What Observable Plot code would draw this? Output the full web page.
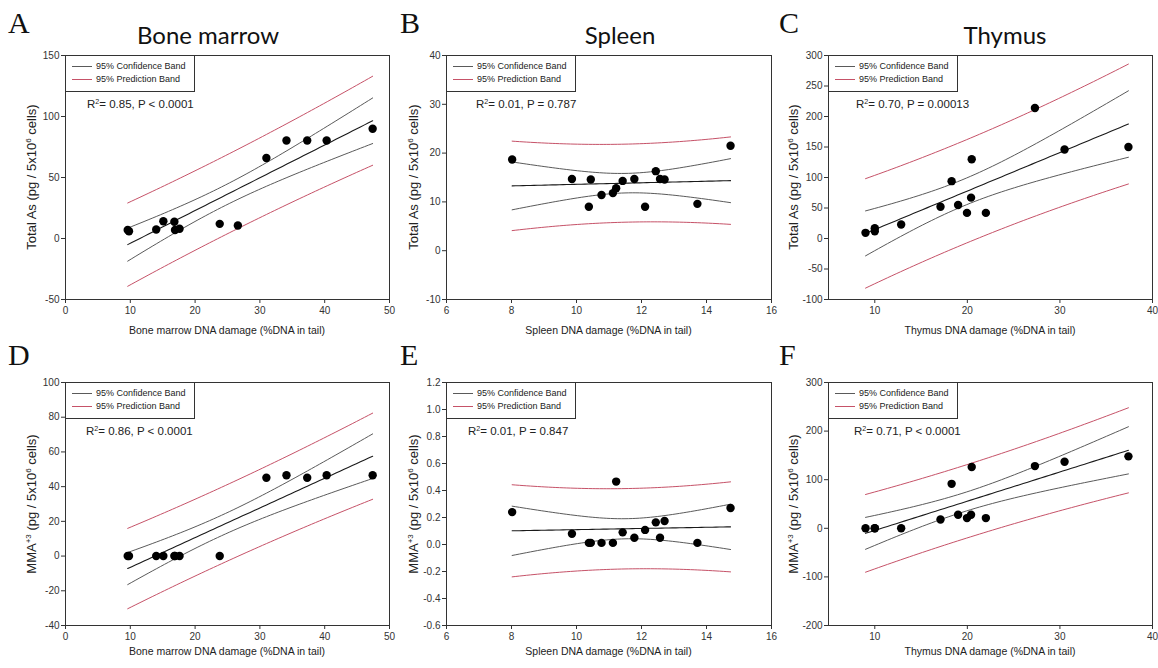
<!DOCTYPE html>
<html>
<head>
<meta charset="utf-8">
<script src="https://cdn.jsdelivr.net/npm/d3@7"></script>
<script src="https://cdn.jsdelivr.net/npm/@observablehq/plot@0.6"></script>
<style>
  body { margin: 0; background: #fff; }
  #root { position: relative; width: 1158px; height: 668px; overflow: hidden; background: #fff;
          font-family: "Liberation Sans", Arial, sans-serif; color: #222; }
  .abs { position: absolute; }
  .letter { font-family: "Liberation Serif", "Times New Roman", serif; font-size: 30px; line-height: 30px; color: #111; }
  .title { font-family: Lato, "Open Sans", sans-serif; font-size: 24px; line-height: 24px; color: #111;
           transform: translateX(-50%); white-space: nowrap; }
  .xlab { font-size: 10.5px; line-height: 13px; transform: translateX(-50%); white-space: nowrap; color: #222; }
  .ylab { font-size: 13px; line-height: 15px; white-space: nowrap; color: #222;
          transform: translate(-50%, -50%) rotate(-90deg); }
  .ylab sup, .r2 sup { font-size: 0.62em; vertical-align: 0.55em; line-height: 0; }
  .legend { box-sizing: border-box; border: 1px solid #333; background: #fff; width: 130px; height: 37px;
            font-size: 9px; color: #222; }
  .legend .row { position: absolute; left: 0; height: 11px; line-height: 11px; white-space: nowrap; }
  .legend .sw { position: absolute; left: 6px; top: 5px; width: 20px; height: 0; border-top: 1px solid; }
  .legend .tx { position: absolute; left: 30px; top: 0; }
  .r2 { font-size: 11.5px; line-height: 14px; white-space: nowrap; color: #222; }
</style>
</head>
<body>
<div id="root"></div>
<script>
// ---------------- data ----------------
const panelLetters = ["A", "B", "C", "D", "E", "F"];
const organTitles = ["Bone marrow", "Spleen", "Thymus"];
const xLabels = ["Bone marrow DNA damage (%DNA in tail)", "Spleen DNA damage (%DNA in tail)", "Thymus DNA damage (%DNA in tail)"];
const yLabelsHtml = ["Total As (pg / 5x10<sup>6</sup> cells)", "MMA<sup>+3</sup> (pg / 5x10<sup>6</sup> cells)"];
const statTexts = [
  ["0.85", "P < 0.0001"], ["0.01", "P = 0.787"], ["0.70", "P = 0.00013"],
  ["0.86", "P < 0.0001"], ["0.01", "P = 0.847"], ["0.71", "P < 0.0001"]
];
const legendLabels = ["95% Confidence Band", "95% Prediction Band"];

// Bone marrow
const bmDamage    = [9.6, 9.8, 14.0, 15.1, 16.8, 16.9, 17.6, 23.8, 26.6, 31.0, 34.1, 37.3, 40.3, 47.4];
const bmTotalAs   = [7.0, 6.0, 7.4, 14.2, 13.7, 7.0, 8.0, 12.0, 10.7, 66.0, 80.3, 80.3, 80.3, 89.9];
const bmDamageMMA = [9.6, 9.8, 14.0, 15.1, 16.8, 16.9, 17.6, 23.8, 31.0, 34.1, 37.3, 40.3, 47.4];
const bmMMA       = [0, 0, 0, 0, 0, 0, 0, 0, 45.1, 46.6, 45.1, 46.6, 46.6];
// Spleen
const spDamage    = [8.02, 9.86, 10.38, 10.44, 10.77, 11.12, 11.22, 11.42, 11.78, 12.11, 12.44, 12.57, 12.71, 13.72, 14.74];
const spTotalAs   = [18.7, 14.7, 9.0, 14.6, 11.4, 11.8, 12.8, 14.3, 14.7, 9.0, 16.3, 14.7, 14.6, 9.6, 21.5];
const spMMA       = [0.24, 0.08, 0.012, 0.012, 0.012, 0.012, 0.466, 0.09, 0.05, 0.108, 0.164, 0.05, 0.174, 0.012, 0.27];
// Thymus
const thDamage    = [9.0, 10.0, 10.0, 12.85, 17.1, 18.3, 19.0, 19.96, 20.4, 20.47, 22.0, 27.3, 30.5, 37.4];
const thTotalAs   = [9.3, 17, 12, 23, 52, 94, 55, 42, 67, 130, 42, 214, 146, 150];
const thMMA       = [0, 0, 0, 0, 18, 91.5, 28, 21, 28, 126, 21, 128, 137, 148];

// ticks
const bmXTicks = [0, 10, 20, 30, 40, 50];
const spXTicks = [6, 8, 10, 12, 14, 16];
const thXTicks = [10, 20, 30, 40];
const aYTicks = [-50, 0, 50, 100, 150];
const bYTicks = [-10, 0, 10, 20, 30, 40];
const cYTicks = [-100, -50, 0, 50, 100, 150, 200, 250, 300];
const dYTicks = [-40, -20, 0, 20, 40, 60, 80, 100];
const eYTicks = [-0.6, -0.4, -0.2, 0.0, 0.2, 0.4, 0.6, 0.8, 1.0, 1.2];
const fYTicks = [-200, -100, 0, 100, 200, 300];

// Student t (two-sided 95%) by degrees of freedom
const tCrit = {11: 2.201, 12: 2.179, 13: 2.160};

// ---------------- layout / style ----------------
const COL = [
  {left: 0,   width: 400, ml: 65, mr: 11},
  {left: 390, width: 390, ml: 56, mr: 9},
  {left: 775, width: 383, ml: 53, mr: 6}
];
const ROW = [
  {top: 40,  height: 300, mt: 15, mb: 41},
  {top: 370, height: 298, mt: 12, mb: 43}
];
const PRED = "#c65268", CONF = "#5a5a5a", FIT = "#1a1a1a";

const panels = [
  {row: 0, col: 0, xs: bmDamage,    ys: bmTotalAs, xd: [0, 50],  xt: bmXTicks, yd: [-50, 150],  yt: aYTicks},
  {row: 0, col: 1, xs: spDamage,    ys: spTotalAs, xd: [6, 16],  xt: spXTicks, yd: [-10, 40],   yt: bYTicks},
  {row: 0, col: 2, xs: thDamage,    ys: thTotalAs, xd: [5, 40],  xt: thXTicks, yd: [-100, 300], yt: cYTicks},
  {row: 1, col: 0, xs: bmDamageMMA, ys: bmMMA,     xd: [0, 50],  xt: bmXTicks, yd: [-40, 100],  yt: dYTicks},
  {row: 1, col: 1, xs: spDamage,    ys: spMMA,     xd: [6, 16],  xt: spXTicks, yd: [-0.6, 1.2], yt: eYTicks, yfmt: d => d.toFixed(1)},
  {row: 1, col: 2, xs: thDamage,    ys: thMMA,     xd: [5, 40],  xt: thXTicks, yd: [-200, 300], yt: fYTicks}
];

// linear regression with 95% confidence and prediction bands
function regressionBands(xs, ys) {
  const n = xs.length;
  const mx = d3.mean(xs), my = d3.mean(ys);
  let sxx = 0, sxy = 0;
  for (let i = 0; i < n; i++) { sxx += (xs[i] - mx) ** 2; sxy += (xs[i] - mx) * (ys[i] - my); }
  const b = sxy / sxx, a = my - b * mx;
  let sse = 0;
  for (let i = 0; i < n; i++) sse += (ys[i] - (a + b * xs[i])) ** 2;
  const s = Math.sqrt(sse / (n - 2));
  const t = tCrit[n - 2];
  const [x0, x1] = d3.extent(xs);
  const steps = 60;
  return d3.range(steps + 1).map(i => {
    const x = x0 + (x1 - x0) * i / steps;
    const yh = a + b * x;
    const k = 1 / n + (x - mx) ** 2 / sxx;
    const hc = t * s * Math.sqrt(k), hp = t * s * Math.sqrt(1 + k);
    return {x, yh, cLo: yh - hc, cHi: yh + hc, pLo: yh - hp, pHi: yh + hp};
  });
}

const root = document.getElementById("root");
function addDiv(cls, html, style) {
  const d = document.createElement("div");
  d.className = "abs " + cls;
  d.innerHTML = html;
  Object.assign(d.style, style);
  root.appendChild(d);
  return d;
}

panels.forEach((p, idx) => {
  const c = COL[p.col], r = ROW[p.row];
  const pts = p.xs.map((x, i) => ({x, y: p.ys[i]}));
  const band = regressionBands(p.xs, p.ys);
  const xfmt = d => String(d);
  const yfmt = p.yfmt || (d => String(d));

  const chart = Plot.plot({
    width: c.width, height: r.height,
    marginLeft: c.ml, marginRight: c.mr, marginTop: r.mt, marginBottom: r.mb,
    x: {domain: p.xd}, y: {domain: p.yd},
    style: {fontFamily: "'Liberation Sans', Arial, sans-serif", fontSize: "10px", color: "#333", background: "transparent", overflow: "visible"},
    marks: [
      Plot.axisX(p.xt, {tickSize: 4, tickPadding: 3, tickFormat: xfmt, label: null, stroke: "#333"}),
      Plot.axisY(p.yt, {tickSize: 4, tickPadding: 2, tickFormat: yfmt, label: null, stroke: "#333"}),
      Plot.line(band, {x: "x", y: "pHi", stroke: PRED, strokeWidth: 1}),
      Plot.line(band, {x: "x", y: "pLo", stroke: PRED, strokeWidth: 1}),
      Plot.line(band, {x: "x", y: "cHi", stroke: CONF, strokeWidth: 1}),
      Plot.line(band, {x: "x", y: "cLo", stroke: CONF, strokeWidth: 1}),
      Plot.line(band, {x: "x", y: "yh", stroke: FIT, strokeWidth: 1.1}),
      Plot.dot(pts, {x: "x", y: "y", r: 4.2, fill: "#000", stroke: "none"}),
      Plot.frame({stroke: "#333", strokeWidth: 1})
    ]
  });
  chart.style.position = "absolute";
  chart.style.left = c.left + "px";
  chart.style.top = r.top + "px";
  root.appendChild(chart);

  const fx0 = c.left + c.ml, fx1 = c.left + c.width - c.mr;
  const fy0 = r.top + r.mt, fy1 = r.top + r.height - r.mb;

  // legend box
  const lg = addDiv("legend", "", {left: fx0 + "px", top: fy0 + "px"});
  [[CONF, 5], [PRED, 18]].forEach(([col, top], k) => {
    const row = document.createElement("div");
    row.className = "row";
    row.style.top = top + "px";
    row.innerHTML = `<div class="sw" style="border-color:${col}"></div><div class="tx">${legendLabels[k]}</div>`;
    lg.appendChild(row);
  });

  // R^2 / P text
  const [r2, pv] = statTexts[idx];
  const r2Left = [87, 476, 856, 86, 468, 854][idx];
  addDiv("r2", `R<sup>2</sup>= ${r2}, ${pv}`, {left: r2Left + "px", top: (fy0 + 42) + "px"});

  // axis labels
  addDiv("xlab", xLabels[p.col], {left: ((fx0 + fx1) / 2) + "px", top: (p.row === 0 ? 324 : 645) + "px"});
  const ylx = [31, 413, 793][p.col];
  addDiv("ylab", yLabelsHtml[p.row], {left: ylx + "px", top: ((fy0 + fy1) / 2) + "px"});

  // panel letter
  const letterLeft = [8, 400, 779][p.col];
  addDiv("letter", panelLetters[idx], {left: letterLeft + "px", top: (p.row === 0 ? 8 : 340) + "px"});
});

// organ titles above the top row
[208, 620, 1005].forEach((cx, i) => {
  addDiv("title", organTitles[i], {left: cx + "px", top: "23px"});
});
</script>
</body>
</html>
